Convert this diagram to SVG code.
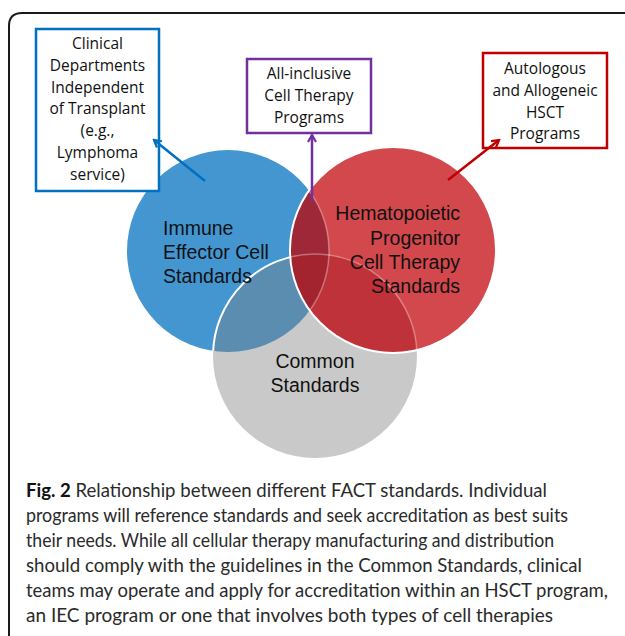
<svg xmlns="http://www.w3.org/2000/svg" width="625" height="636" viewBox="0 0 625 636">
<style>
.box{fill:#fff;stroke-width:2.5}
.bt{font-family:"Open Sans","Liberation Sans",sans-serif;font-size:15.5px;fill:#111;text-anchor:middle}
.ct{font-family:"Liberation Sans",Arial,sans-serif;font-size:19.5px;fill:#111}
.cap{font-family:Lato,"Open Sans","Liberation Sans",sans-serif;font-size:19px;fill:#2a2a2a}
.arr{fill:none;stroke-width:2.5}
</style>
<defs>
<clipPath id="cBlue"><circle cx="228" cy="251" r="101"/></clipPath>
<clipPath id="cRed"><circle cx="393" cy="250" r="103"/></clipPath>
<clipPath id="cGray"><circle cx="315" cy="356" r="102"/></clipPath>
<marker id="mB" viewBox="0 0 10 10" refX="8.5" refY="5" markerWidth="10" markerHeight="10" markerUnits="userSpaceOnUse" orient="auto"><path d="M1.5,1 L8.5,5 L1.5,9" fill="none" stroke="#0070C0" stroke-width="2.2"/></marker>
<marker id="mP" viewBox="0 0 10 10" refX="8.5" refY="5" markerWidth="10" markerHeight="10" markerUnits="userSpaceOnUse" orient="auto"><path d="M1.5,1 L8.5,5 L1.5,9" fill="none" stroke="#7030A0" stroke-width="2.2"/></marker>
<marker id="mR" viewBox="0 0 10 10" refX="8.5" refY="5" markerWidth="10" markerHeight="10" markerUnits="userSpaceOnUse" orient="auto"><path d="M1.5,1 L8.5,5 L1.5,9" fill="none" stroke="#C00000" stroke-width="2.2"/></marker>
</defs>
<rect width="625" height="636" fill="#fff"/>
<path d="M9,636 V26 Q9,13 22,13 H625" fill="none" stroke="#1a1a1a" stroke-width="2"/>

<g id="venn">
<circle cx="228" cy="251" r="101" fill="#4496D1"/>
<circle cx="315" cy="356" r="102" fill="#C9C9C9"/>
<circle cx="393" cy="250" r="103" fill="#D2484C"/>
<g clip-path="url(#cBlue)"><circle cx="315" cy="356" r="102" fill="#5B8DB0"/>
<circle cx="315" cy="356" r="102" fill="none" stroke="#fff" stroke-width="2"/></g>
<g clip-path="url(#cRed)"><circle cx="315" cy="356" r="102" fill="#C03239"/>
<circle cx="228" cy="251" r="101" fill="#9E2838"/>
<g clip-path="url(#cGray)"><circle cx="228" cy="251" r="101" fill="#A3232E"/></g>
<circle cx="315" cy="356" r="102" fill="none" stroke="#fff" stroke-opacity="0.35" stroke-width="1.5"/>
<circle cx="228" cy="251" r="101" fill="none" stroke="#fff" stroke-opacity="0.35" stroke-width="1.5"/></g>
<circle cx="393" cy="250" r="103" fill="none" stroke="#fff" stroke-width="2"/>
</g>

<g id="iec-label">
<text class="ct" x="163" y="235">Immune</text>
<text class="ct" x="163" y="259">Effector Cell</text>
<text class="ct" x="163" y="283">Standards</text>
</g>
<g id="hpc-label">
<text class="ct" x="460" y="220" text-anchor="end">Hematopoietic</text>
<text class="ct" x="460" y="245" text-anchor="end">Progenitor</text>
<text class="ct" x="460" y="269" text-anchor="end">Cell Therapy</text>
<text class="ct" x="460" y="293" text-anchor="end">Standards</text>
</g>
<g id="common-label">
<text class="ct" x="315" y="368" text-anchor="middle">Common</text>
<text class="ct" x="315" y="392" text-anchor="middle">Standards</text>
</g>

<g id="box-clinical">
<rect class="box" x="36" y="29" width="123" height="162" stroke="#0070C0"/>
<text class="bt" x="97.5" y="49">Clinical</text>
<text class="bt" x="97.5" y="70.8">Departments</text>
<text class="bt" x="97.5" y="92.6">Independent</text>
<text class="bt" x="97.5" y="114.4">of Transplant</text>
<text class="bt" x="97.5" y="136.2">(e.g.,</text>
<text class="bt" x="97.5" y="158">Lymphoma</text>
<text class="bt" x="97.5" y="179.8">service)</text>
</g>
<g id="box-allinclusive">
<rect class="box" x="247" y="59" width="124" height="74" stroke="#7030A0"/>
<text class="bt" x="309" y="79">All-inclusive</text>
<text class="bt" x="309" y="101">Cell Therapy</text>
<text class="bt" x="309" y="123">Programs</text>
</g>
<g id="box-hsct">
<rect class="box" x="483" y="53" width="124" height="95" stroke="#C00000"/>
<text class="bt" x="545" y="74">Autologous</text>
<text class="bt" x="545" y="96">and Allogeneic</text>
<text class="bt" x="545" y="118">HSCT</text>
<text class="bt" x="545" y="139">Programs</text>
</g>

<g id="connectors">
<line class="arr" x1="205" y1="181" x2="154" y2="140" stroke="#0070C0" marker-end="url(#mB)"/>
<line class="arr" x1="312" y1="201" x2="312" y2="135" stroke="#7030A0" marker-end="url(#mP)"/>
<line class="arr" x1="448" y1="180" x2="499" y2="140" stroke="#C00000" marker-end="url(#mR)"/>
</g>

<g id="caption">
<text class="cap" x="26" y="497" textLength="521" lengthAdjust="spacingAndGlyphs"><tspan font-weight="bold" fill="#111">Fig. 2</tspan> Relationship between different FACT standards. Individual</text>
<text class="cap" x="26" y="522" textLength="542" lengthAdjust="spacingAndGlyphs">programs will reference standards and seek accreditation as best suits</text>
<text class="cap" x="26" y="547" textLength="528" lengthAdjust="spacingAndGlyphs">their needs. While all cellular therapy manufacturing and distribution</text>
<text class="cap" x="26" y="572" textLength="556" lengthAdjust="spacingAndGlyphs">should comply with the guidelines in the Common Standards, clinical</text>
<text class="cap" x="26" y="597" textLength="582" lengthAdjust="spacingAndGlyphs">teams may operate and apply for accreditation within an HSCT program,</text>
<text class="cap" x="26" y="622" textLength="527" lengthAdjust="spacingAndGlyphs">an IEC program or one that involves both types of cell therapies</text>
</g>
</svg>
